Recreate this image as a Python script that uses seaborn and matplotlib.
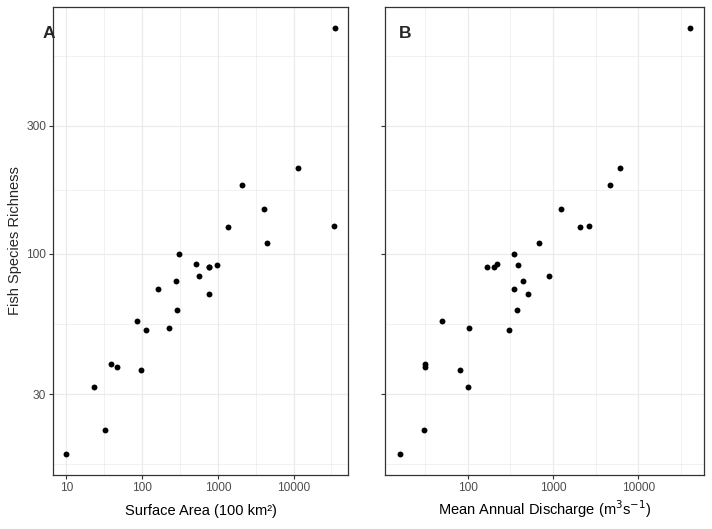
import numpy as np
import pandas as pd
import matplotlib
matplotlib.use("Agg")
import matplotlib.pyplot as plt
import seaborn as sns

# =========================
# data
# =========================
surface_area = [34800, 11300, 2070, 4040, 33800, 1350, 4390, 311, 507, 964,
                769, 769, 556, 276, 164, 753, 293, 86.7, 223, 114,
                39.2, 46.6, 97.5, 23.3, 32.6, 10]
discharge = [40400, 6080, 4640, 1236, 2630, 2070, 681, 347, 219, 386,
             167, 202, 893, 442, 347, 506, 376, 49.5, 103, 303,
             31.3, 31.3, 80.5, 100, 30.5, 15.9]
richness = [692, 208, 181, 147, 127, 126, 110, 100, 92, 91,
            89, 89, 83, 79, 74, 71, 62, 56, 53, 52,
            39, 38, 37, 32, 22, 18]

y_breaks = [30, 100, 300]
xa_breaks = [10, 100, 1000, 10000]
xb_breaks = [100, 1000, 10000]

df = pd.DataFrame({"area": surface_area, "discharge": discharge, "richness": richness})

# =========================
# style
# =========================
sns.set_style("white")
plt.rcParams['font.family'] = ['Liberation Sans', 'DejaVu Sans']

fig = plt.figure(figsize=(7.12, 5.29), dpi=100)
ax_a = fig.add_axes([0.0744, 0.1021, 0.4144, 0.8847])
ax_b = fig.add_axes([0.5412, 0.1021, 0.4480, 0.8847], sharey=ax_a)


def log_lims(vals, mult=0.05):
    lo, hi = np.log10(min(vals)), np.log10(max(vals))
    pad = (hi - lo) * mult
    return 10 ** (lo - pad), 10 ** (hi + pad)


def minor_breaks(breaks, lims):
    # ggplot style: midpoints in log space, extended one step each side
    b = list(np.log10(breaks))
    bd = b[1] - b[0]
    b = [b[0] - bd] + b + [b[-1] + bd]
    mids = [(b[i] + b[i + 1]) / 2 for i in range(len(b) - 1)]
    lo, hi = np.log10(lims)
    return [10 ** m for m in mids if lo <= m <= hi]


def style_panel(ax, xcol, xbreaks, xlabel):
    sns.scatterplot(data=df, x=xcol, y="richness", ax=ax, color="black",
                    s=18, linewidth=0, zorder=3)
    ax.set_xscale("log")
    ax.set_yscale("log")
    xl = log_lims(df[xcol])
    yl = log_lims(df["richness"])
    ax.set_xlim(xl)
    ax.set_ylim(yl)
    ax.set_xticks(xbreaks)
    ax.set_xticklabels([str(b) for b in xbreaks])
    ax.set_yticks(y_breaks)
    ax.set_yticklabels([str(b) for b in y_breaks])
    ax.set_xticks(minor_breaks(xbreaks, xl), minor=True)
    ax.set_yticks(minor_breaks(y_breaks, yl), minor=True)
    ax.grid(which="major", color="#EBEBEB", linewidth=0.9, zorder=0)
    ax.grid(which="minor", color="#EBEBEB", linewidth=0.5, zorder=0)
    ax.set_axisbelow(True)
    ax.tick_params(which="major", length=3, width=0.8, color="#333333",
                   labelcolor="#4D4D4D", labelsize=8.6, pad=2, bottom=True, left=True)
    ax.tick_params(which="minor", length=0)
    for sp in ax.spines.values():
        sp.set_color("#333333")
        sp.set_linewidth(0.9)
    ax.set_xlabel(xlabel, fontsize=10.5, color="black")
    # same baseline for both titles
    ax.xaxis.label.set_va("baseline")
    ax.xaxis.set_label_coords(0.5, -40 / 468)


style_panel(ax_a, "area", xa_breaks, "Surface Area (100 km²)")
style_panel(ax_b, "discharge", xb_breaks, "Mean Annual Discharge (m$^{3}$s$^{-1}$)")

ax_a.set_ylabel("Fish Species Richness", fontsize=10.5, labelpad=3)
ax_b.set_ylabel("")
ax_b.tick_params(labelleft=False)

fig.text(48.5 / 712, 1 - 33 / 529, "A", fontsize=12.5, fontweight="bold",
         ha="center", va="center", zorder=10)
fig.text(405.5 / 712, 1 - 33 / 529, "B", fontsize=12.5, fontweight="bold",
         ha="center", va="center", zorder=10)

fig.savefig("out.png", dpi=100)
plt.close(fig)
